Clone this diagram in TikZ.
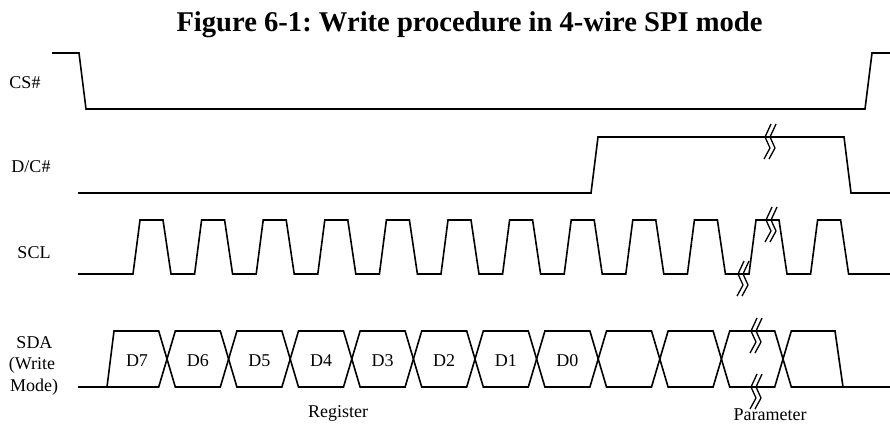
\documentclass[tikz,border=0pt]{standalone}
\usepackage{fontspec}
\setmainfont{Liberation Serif}
\frenchspacing
\tikzset{
  sig/.style={line width=1.6pt, line join=miter},
  brkline/.style={line width=1.3pt},
  lbl/.style={font=\fontsize{18}{20}\selectfont, inner sep=0pt, anchor=base},
  ttl/.style={font=\fontsize{28.6}{30}\selectfont\bfseries, inner sep=0pt, anchor=base},
  brk/.pic={
    \draw[brkline] (6,-13) -- (0,0) -- (5,11) -- (-1,22);
    \draw[brkline] (11,-13) -- (5,0) -- (10,11) -- (4,22);
  }
}
\begin{document}
\begin{tikzpicture}[x=1pt,y=-1pt]
\useasboundingbox (0,0) rectangle (890,423);
% title
\node[ttl] (title) at (469.5,31) {Figure 6-1: Write procedure in 4-wire SPI mode};
% signal labels
\node[lbl] (lcs) at (25,88) {CS\#};
\node[lbl] (ldc) at (31,172) {D/C\#};
\node[lbl] (lscl) at (34,258) {SCL};
\node[lbl] (lsda1) at (34.5,348) {SDA};
\node[lbl] (lsda2) at (32,369) {(Write};
\node[lbl] (lsda3) at (34,391) {Mode)};
% CS#
\draw[sig] (52,53) -- (79,53) -- (86,109) -- (865,109) -- (872,53) -- (890,53);
% D/C#
\draw[sig] (78,193) -- (591,193) -- (598,137) -- (844,137) -- (851,193) -- (890,193);
\pic at (765,137) {brk};
% SCL
\draw[sig] (78,274) foreach \k in {0,...,11} {
  -- ({133+61.6*\k},274) -- ({140+61.6*\k},220) -- ({163+61.6*\k},220) -- ({171+61.6*\k},274)
} -- (890,274);
\pic at (738,274) {brk};
\pic at (766,220) {brk};
% SDA
\draw[sig] (78,387) foreach \j in {0,...,4} {
  -- ({158.7+123.2*\j},387) -- ({175.3+123.2*\j},331) -- ({220.3+123.2*\j},331) -- ({236.9+123.2*\j},387)
} -- (774.7,387) -- (791.3,331) -- (835,331) -- (843,387) -- (890,387);
\draw[sig] (107,387) -- (114,331) foreach \j in {0,...,4} {
  -- ({158.7+123.2*\j},331) -- ({175.3+123.2*\j},387) -- ({220.3+123.2*\j},387) -- ({236.9+123.2*\j},331)
} -- (774.7,331) -- (791.3,387) -- (843,387);
\pic at (751,331) {brk};
\pic at (751,387) {brk};
% data labels
\node[lbl] (d7) at (137,366) {D7};
\node[lbl] (d6) at (197.8,366) {D6};
\node[lbl] (d5) at (259.4,366) {D5};
\node[lbl] (d4) at (321,366) {D4};
\node[lbl] (d3) at (382.6,366) {D3};
\node[lbl] (d2) at (444.2,366) {D2};
\node[lbl] (d1) at (505.8,366) {D1};
\node[lbl] (d0) at (567.4,366) {D0};
\node[lbl] (reg) at (338,417) {Register};
\node[lbl] (par) at (770,420) {Parameter};
\end{tikzpicture}
\end{document}
